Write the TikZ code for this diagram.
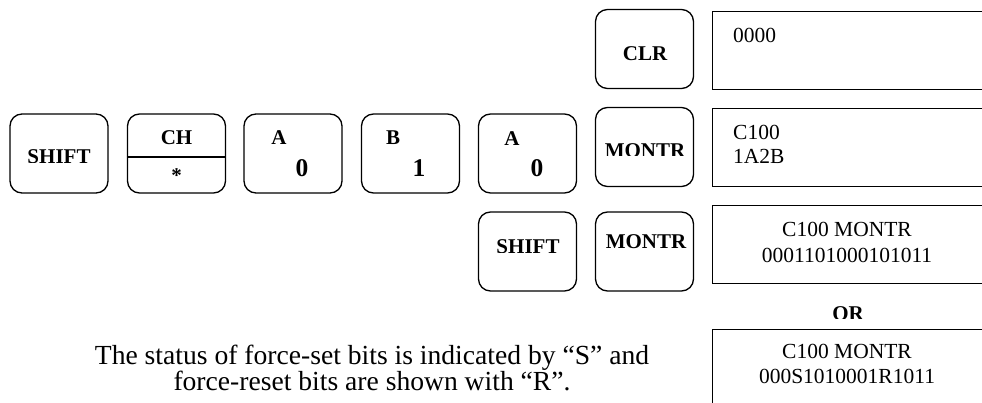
\documentclass[tikz,border=0pt]{standalone}
\usepackage{fontspec}
\setmainfont{Liberation Serif}
\begin{document}
\begin{tikzpicture}[x=1pt,y=-1pt,
  keybox/.style={draw, line width=1.3pt, rounded corners=12pt, minimum width=98pt, minimum height=79pt, inner sep=0pt},
  dispbox/.style={draw, line width=1.4pt},
  keytxt/.style={font=\bfseries\fontsize{21}{21}\selectfont, anchor=base, inner sep=0pt},
  keybig/.style={font=\bfseries\fontsize{25.5}{25.5}\selectfont, anchor=base, inner sep=0pt},
  disptxt/.style={font=\fontsize{21.5}{21.5}\selectfont, anchor=base, inner sep=0pt},
  bodytxt/.style={font=\fontsize{27.6}{27.6}\selectfont, anchor=base, inner sep=0pt}]
\useasboundingbox (0,0) rectangle (982,403);
\clip (0,0) rectangle (982,403);
% keys
\node[keybox] (shiftA) at (59,153.5) {};
\node[keybox] (ch) at (176.5,153.5) {};
\node[keybox] (azero) at (293,153.5) {};
\node[keybox] (bone) at (410.5,153.5) {};
\node[keybox] (azerob) at (527.5,153.5) {};
\node[keybox] (clr) at (644.5,49) {};
\node[keybox] (montrA) at (644.5,147) {};
\node[keybox] (shiftB) at (527.5,251.5) {};
\node[keybox] (montrB) at (644.5,251.5) {};
\draw[line width=1.3pt] (ch.west |- 0,157) -- (ch.east |- 0,157);
% displays
\node[dispbox, minimum width=300pt, minimum height=78pt, anchor=north west, inner sep=0pt] (d1) at (712,11) {};
\node[dispbox, minimum width=300pt, minimum height=78pt, anchor=north west, inner sep=0pt] (d2) at (712,108) {};
\node[dispbox, minimum width=300pt, minimum height=78pt, anchor=north west, inner sep=0pt] (d3) at (712,205) {};
\node[dispbox, minimum width=300pt, minimum height=100pt, anchor=north west, inner sep=0pt] (d4) at (712,329) {};
% key labels
\begin{scope}
\clip (10,140) rectangle (108,162.5);
\node[keytxt] (tshiftA) at (59,164) {SHIFT};
\end{scope}
\node[keytxt] (tch) at (176.5,145) {CH};
\node[keytxt] (tstar) at (176.5,183) {*};
\node[keytxt] (ta1) at (279,145) {A};
\node[keybig] (t01) at (302,177) {0};
\node[keytxt] (tb) at (393,145) {B};
\node[keybig] (t1) at (419,177) {1};
\node[keytxt] (ta2) at (512,146) {A};
\node[keybig] (t02) at (537,177) {0};
\node[keytxt] (tclr) at (645,61) {CLR};
\begin{scope}
\clip (596,130) rectangle (693,155.5);
\node[keytxt] (tmontrA) at (645,158) {MONTR};
\end{scope}
\begin{scope}
\clip (478,230) rectangle (577,252.5);
\node[keytxt] (tshiftB) at (528,254) {SHIFT};
\end{scope}
\node[keytxt] (tmontrB) at (646,249) {MONTR};
\begin{scope}
\clip (800,295) rectangle (900,318);
\node[keytxt] (tor) at (848,320) {OR};
\end{scope}
% display texts
\node[disptxt, anchor=base west] (l1) at (733,43) {0000};
\node[disptxt, anchor=base west] (l2) at (733,140) {C100};
\node[disptxt, anchor=base west] (l3) at (733,164) {1A2B};
\node[disptxt] (l4) at (847,237) {C100 MONTR};
\node[disptxt] (l5) at (847,262) {0001101000101011};
\node[disptxt] (l6) at (847,358) {C100 MONTR};
\node[disptxt] (l7) at (847,383) {000S1010001R1011};
% body text
\node[bodytxt] (b1) at (372,364) {The status of force-set bits is indicated by “S” and};
\node[bodytxt] (b2) at (372,390) {force-reset bits are shown with “R”.};
\end{tikzpicture}
\end{document}
